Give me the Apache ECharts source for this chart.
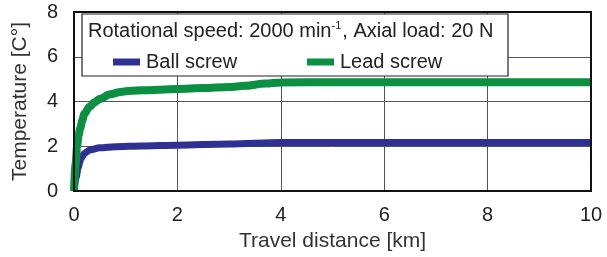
<!DOCTYPE html>
<html><head><meta charset="utf-8">
<script src="https://cdn.jsdelivr.net/npm/echarts@6/dist/echarts.min.js"></script>
<style>html,body{margin:0;padding:0;background:#fff}#c{width:607px;height:257px}</style>
</head><body><div id="c"></div>
<script>
const ballX = [0, 0.04, 0.08, 0.12, 0.15, 0.2, 0.3, 0.5, 0.8, 1.3, 2, 3, 4, 5, 6, 7, 8, 9, 10];
const ballY = [0, 0.6, 1.05, 1.35, 1.5, 1.68, 1.83, 1.93, 1.98, 2.01, 2.05, 2.1, 2.17, 2.17, 2.17, 2.17, 2.17, 2.17, 2.17];
const leadX = [0, 0.03, 0.06, 0.09, 0.12, 0.16, 0.2, 0.3, 0.4, 0.5, 0.7, 0.9, 1.1, 1.3, 2, 2.5, 3.0, 3.3, 3.7, 4, 5, 6, 7, 8, 9, 10];
const leadY = [0, 1.2, 2.0, 2.5, 2.8, 3.15, 3.45, 3.77, 3.97, 4.12, 4.32, 4.43, 4.48, 4.5, 4.56, 4.6, 4.65, 4.7, 4.8, 4.85, 4.86, 4.86, 4.86, 4.86, 4.86, 4.86];
const xTicks = [0, 2, 4, 6, 8, 10];
const yTicks = [0, 2, 4, 6, 8];
const seriesNames = ['Ball screw', 'Lead screw'];
const colors = ['#2e3192', '#0b8f42'];

const font = 'Liberation Sans, Arial, sans-serif';
const chart = echarts.init(document.getElementById('c'), null, {renderer: 'canvas'});
const zip = (xs, ys) => xs.map((x, i) => [x, ys[i]]);
chart.setOption({
  animation: false,
  textStyle: {fontFamily: font},
  grid: {left: 74, top: 12, right: 16, bottom: 63, show: true, borderColor: '#111', borderWidth: 2, backgroundColor: 'transparent', z: 3},
  xAxis: {
    type: 'value', min: xTicks[0], max: xTicks[xTicks.length - 1], interval: 2,
    name: 'Travel distance [km]', nameLocation: 'middle', nameGap: 40,
    nameTextStyle: {fontSize: 21, color: '#333', fontFamily: font},
    axisLine: {show: true, lineStyle: {color: '#111', width: 2}},
    axisTick: {show: false},
    axisLabel: {fontSize: 20, color: '#222', margin: 14, fontFamily: font},
    splitLine: {show: true, lineStyle: {color: '#555', width: 1}}
  },
  yAxis: {
    type: 'value', min: yTicks[0], max: yTicks[yTicks.length - 1], interval: 2,
    name: 'Temperature [C°]', nameLocation: 'middle', nameGap: 43,
    nameTextStyle: {fontSize: 21, color: '#333', fontFamily: font},
    axisLine: {show: true, lineStyle: {color: '#111', width: 2}},
    axisTick: {show: false},
    axisLabel: {fontSize: 20, color: '#222', margin: 16, fontFamily: font},
    splitLine: {show: true, lineStyle: {color: '#555', width: 1}}
  },
  graphic: [
    {type: 'rect', shape: {x: 82, y: 14, width: 426, height: 62}, style: {fill: '#fff', stroke: '#222', lineWidth: 1.2}, z: 100},
    {type: 'text', x: 88, y: 31, z: 101,
      style: {
        text: '{a|Rotational speed: 2000 min}{s|-1}{a|, Axial load: 20 N}',
        verticalAlign: 'middle', fontFamily: font,
        rich: {
          a: {fontSize: 20, fill: '#222', fontFamily: font, verticalAlign: 'middle', lineHeight: 22},
          s: {fontSize: 11, fill: '#222', fontFamily: font, verticalAlign: 'top', lineHeight: 22, padding: [0, 1, 10, 0]}
        }
      }
    }
  ],
  legend: [
    {data: [seriesNames[0]], left: 108, top: 47, itemWidth: 27, itemHeight: 7, z: 102,
      icon: 'rect', textStyle: {fontSize: 20, color: '#222', fontFamily: font, padding: [0, 0, 0, 1]}},
    {data: [seriesNames[1]], left: 302, top: 47, itemWidth: 27, itemHeight: 7, z: 102,
      icon: 'rect', textStyle: {fontSize: 20, color: '#222', fontFamily: font, padding: [0, 0, 0, 1]}}
  ],
  series: [
    {name: seriesNames[0], type: 'line', data: zip(ballX, ballY), smooth: 0.3, smoothMonotone: 'x', showSymbol: false,
      lineStyle: {color: colors[0], width: 7}, itemStyle: {color: colors[0]}, z: 2},
    {name: seriesNames[1], type: 'line', data: zip(leadX, leadY), smooth: 0.3, smoothMonotone: 'x', showSymbol: false,
      lineStyle: {color: colors[1], width: 8}, itemStyle: {color: colors[1]}, z: 2}
  ]
});
</script></body></html>
